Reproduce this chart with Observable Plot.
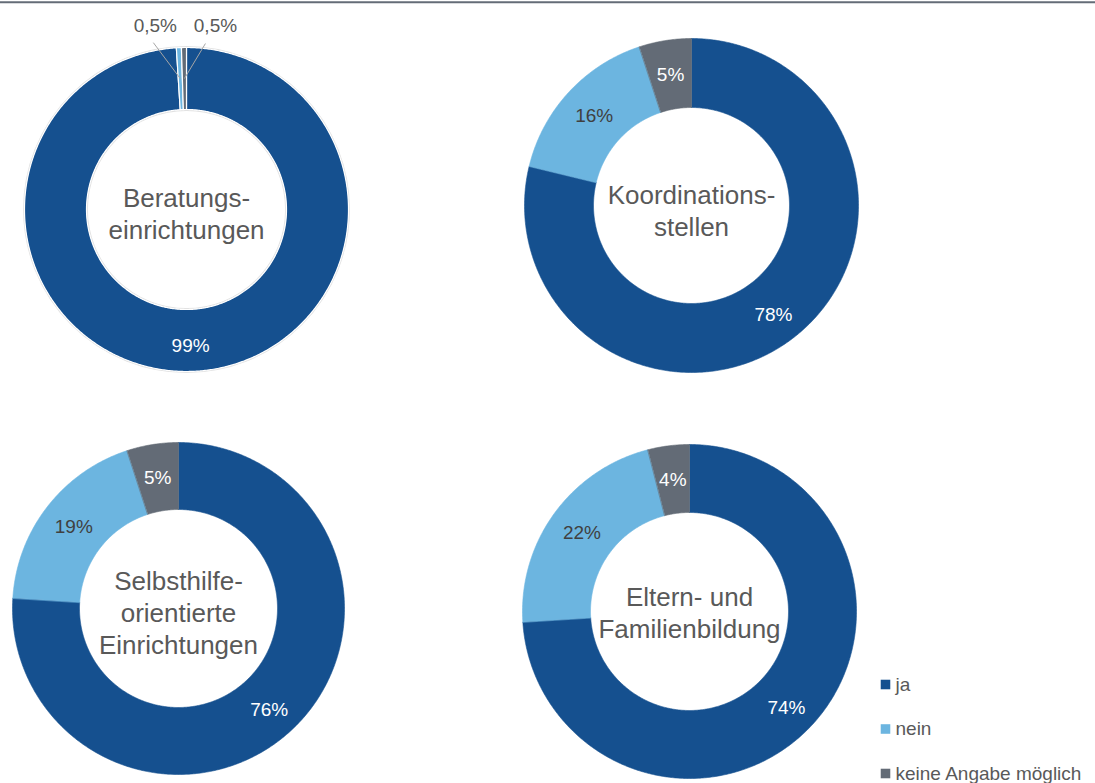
<!DOCTYPE html>
<html><head><meta charset="utf-8">
<script src="https://cdn.jsdelivr.net/npm/d3@7"></script>
<script src="https://cdn.jsdelivr.net/npm/@observablehq/plot@0.6"></script>
<style>
body{margin:0;background:#fff;}
#chart{width:1095px;height:783px;overflow:hidden;}
</style>
</head><body><div id="chart"></div>
<script>
// ---- data ----
const charts = ["Beratungs-\neinrichtungen", "Koordinations-\nstellen", "Selbsthilfe-\norientierte\nEinrichtungen", "Eltern- und\nFamilienbildung"];
const categories = ["ja", "nein", "keine Angabe möglich"];
const ja = [99, 78, 76, 74];
const nein = [0.5, 16, 19, 22];
const keineAngabe = [0.5, 5, 5, 4];

// ---- style / layout ----
const colors = ["#15508f", "#6cb5e0", "#636b76"];
const labelColors = ["#ffffff", "#404040", "#ffffff"];
const layout = {
  width: 1095, height: 783,
  centers: [[186, 209], [691, 205], [178, 608], [689, 611]],
  outer: [162, 167, 166, 167],
  inner: [100, 98, 99, 99],
  titleDy: [3, 4, 3, 0],
  jaLabelDy: 5,
  callouts: { "0-1": [-25, -53, -2, 17], "0-2": [31, -53, -10, 18] },
  legendX: 885, legendTextX: 895, legendY: [684, 728.5, 773],
  topRule: 1.8
};
const font = "'Liberation Sans', Arial, sans-serif";
const fmt = v => String(v).replace(".", ",") + "%";

// ---- derived geometry ----
const series = [ja, nein, keineAngabe];
const TAU = Math.PI * 2;
const slices = [];
charts.forEach((name, i) => {
  const total = ja[i] + nein[i] + keineAngabe[i];
  let acc = 0;
  categories.forEach((cat, k) => {
    const v = series[k][i];
    slices.push({chart: i, k, cat, value: v, a0: acc / total * TAU, a1: (acc + v) / total * TAU});
    acc += v;
  });
});
function polar(i, rad, a) {
  const [cx, cy] = layout.centers[i];
  return [cx + rad * Math.sin(a), cy - rad * Math.cos(a)];
}
const ringRows = [];
slices.forEach(s => {
  const R = layout.outer[s.chart], r = layout.inner[s.chart];
  const n = Math.max(2, Math.ceil((s.a1 - s.a0) / (Math.PI / 360)));
  const key = s.chart + "-" + s.k;
  for (let j = 0; j <= n; j++) {
    const [x, y] = polar(s.chart, R, s.a0 + (s.a1 - s.a0) * j / n);
    ringRows.push({key, chart: s.chart, cat: s.cat, x, y});
  }
  for (let j = n; j >= 0; j--) {
    const [x, y] = polar(s.chart, r, s.a0 + (s.a1 - s.a0) * j / n);
    ringRows.push({key, chart: s.chart, cat: s.cat, x, y});
  }
});
const inLabels = [], outLabels = [], leaders = [];
slices.forEach(s => {
  const rm = (layout.outer[s.chart] + layout.inner[s.chart]) / 2;
  const [x, y] = polar(s.chart, rm, (s.a0 + s.a1) / 2);
  if (s.value >= 1) {
    inLabels.push({x, y: y + (s.k === 0 ? layout.jaLabelDy : 0), text: fmt(s.value), color: labelColors[s.k]});
  } else {
    const c = layout.callouts[s.chart + "-" + s.k];
    outLabels.push({x: x + c[0], y: y + c[1], text: fmt(s.value)});
    leaders.push({x1: x, y1: y, x2: x + c[0] + c[2], y2: y + c[1] + c[3]});
  }
});
const titles = charts.map((t, i) => ({x: layout.centers[i][0], y: layout.centers[i][1] + layout.titleDy[i], text: t}));
const outlineRows = [0].map(i => ({x: layout.centers[i][0], y: layout.centers[i][1]}));
const legendRows = categories.map((c, k) => ({cat: c, x: layout.legendX, tx: layout.legendTextX, y: layout.legendY[k]}));

const plot = Plot.plot({
  width: layout.width, height: layout.height,
  margin: 0,
  x: {domain: [0, layout.width], range: [0, layout.width], axis: null},
  y: {domain: [0, layout.height], range: [0, layout.height], axis: null},
  color: {domain: categories, range: colors},
  style: {fontFamily: font, background: "#fff", overflow: "visible"},
  marks: [
    Plot.ruleY([layout.topRule], {stroke: "#646c77", strokeWidth: 2}),
    Plot.dot(outlineRows, {x: "x", y: "y", r: layout.outer[0] + 0.8, fill: "none", stroke: "#e2e2e2", strokeWidth: 1.2}),
    Plot.dot(outlineRows, {x: "x", y: "y", r: layout.inner[0] - 0.8, fill: "none", stroke: "#e2e2e2", strokeWidth: 1.2}),
    Plot.line(ringRows.filter(d => d.chart !== 0), {x: "x", y: "y", z: "key", fill: "cat", stroke: "cat", strokeWidth: 0.6, curve: "linear-closed"}),
    Plot.line(ringRows.filter(d => d.chart === 0), {x: "x", y: "y", z: "key", fill: "cat", stroke: "#ffffff", strokeWidth: 1.2, curve: "linear-closed"}),
    Plot.link(leaders, {x1: "x1", y1: "y1", x2: "x2", y2: "y2", stroke: "#a6a6a6", strokeWidth: 1}),
    Plot.text(inLabels, {x: "x", y: "y", text: "text", fill: d => d.color, fontSize: 19}),
    Plot.text(outLabels, {x: "x", y: "y", text: "text", fill: "#595959", fontSize: 19}),
    Plot.text(titles, {x: "x", y: "y", text: "text", fill: "#595959", fontSize: 26, lineHeight: 1.23}),
    Plot.dot(legendRows, {x: "x", y: "y", fill: "cat", symbol: "square", r: 5.4}),
    Plot.text(legendRows, {x: "tx", y: "y", text: "cat", fill: "#595959", fontSize: 19, textAnchor: "start"})
  ]
});
document.getElementById("chart").appendChild(plot);
</script>
</body></html>
